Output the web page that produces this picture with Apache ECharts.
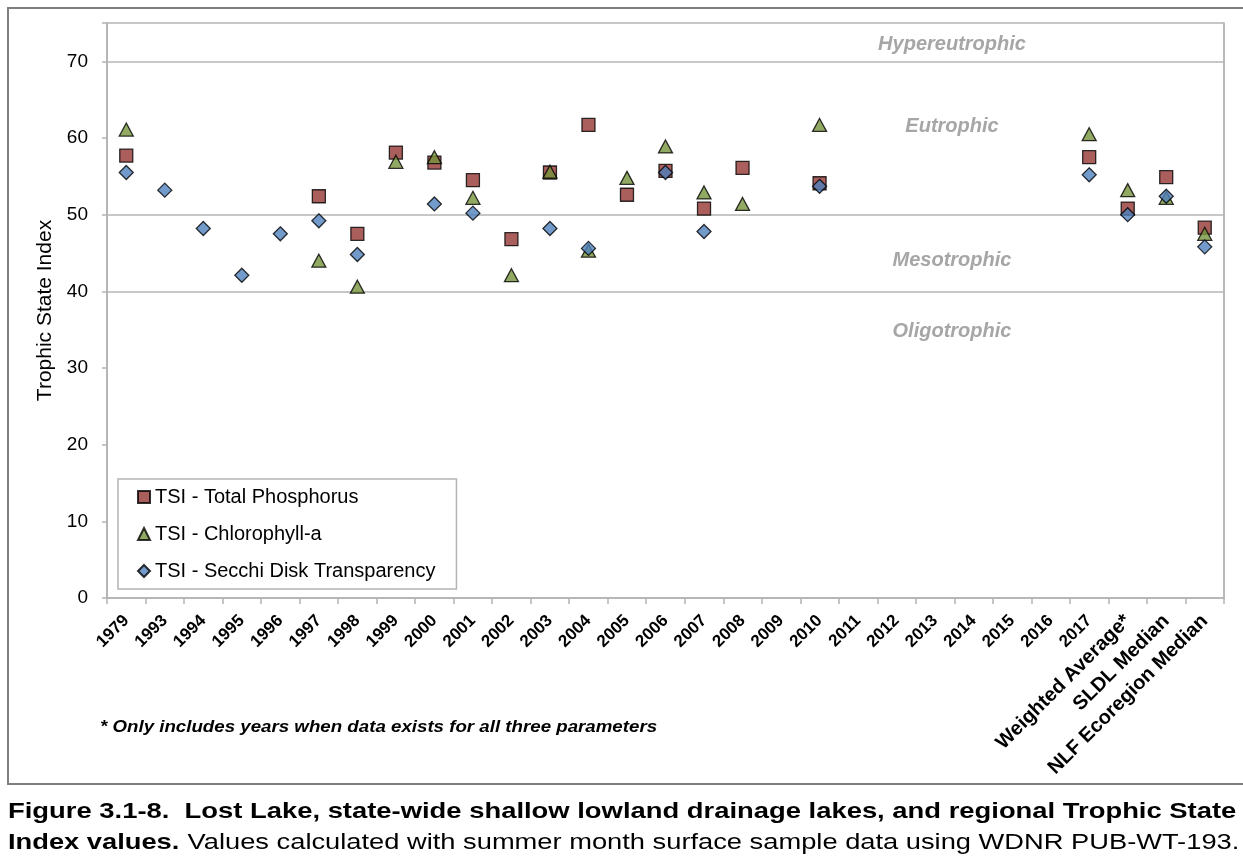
<!DOCTYPE html>
<html>
<head>
<meta charset="utf-8">
<script src="https://cdn.jsdelivr.net/npm/echarts@6/dist/echarts.min.js"></script>
<style>
  html, body { margin: 0; padding: 0; background: #fff; }
  #chart { width: 1243px; height: 859px; }
</style>
</head>
<body>
<div id="chart"></div>
<script>
// categories along the x axis
var categories = ['1979', '1993', '1994', '1995', '1996', '1997', '1998', '1999', '2000', '2001',
  '2002', '2003', '2004', '2005', '2006', '2007', '2008', '2009', '2010', '2011', '2012', '2013',
  '2014', '2015', '2016', '2017', 'Weighted Average*', 'SLDL Median', 'NLF Ecoregion Median']

// TSI values (null = no data)
var tsiPhosphorus = [57.7, null, null, null, null, 52.4, 47.5, 58.1, 56.8, 54.5,
  46.8, 55.5, 61.7, 52.6, 55.7, 50.8, 56.1, null, 54.1, null, null, null,
  null, null, null, 57.5, 50.8, 54.9, 48.3]
var tsiChlorophyll = [61.1, null, null, null, null, 44.0, 40.6, 56.9, 57.5, 52.2,
  42.1, 55.6, 45.3, 54.8, 58.9, 52.9, 51.4, null, 61.7, null, null, null,
  null, null, null, 60.5, 53.2, 52.2, 47.5]
var tsiSecchi = [55.5, 53.2, 48.2, 42.1, 47.5, 49.2, 44.8, null, 51.4, 50.2,
  null, 48.2, 45.6, null, 55.5, 47.8, null, null, 53.7, null, null, null,
  null, null, null, 55.2, 50.0, 52.4, 45.8]

// trophic class boundaries and zone labels
var trophicBreaks = [40, 50, 70]
var zoneLabels = ['Hypereutrophic', 'Eutrophic', 'Mesotrophic', 'Oligotrophic']
var zoneLabelY = [44, 126, 260, 331]

var seriesNames = ['TSI - Total Phosphorus', 'TSI - Chlorophyll-a', 'TSI - Secchi Disk Transparency']

var font = 'Arial, "Liberation Sans", sans-serif'
var gridColor = '#b4b4b4'

var chart = echarts.init(document.getElementById('chart'))

var zoneGraphics = zoneLabels.map(function (t, i) {
  return {
    type: 'text',
    x: 952,
    y: zoneLabelY[i],
    style: {
      text: t,
      fill: '#a6a6a6',
      font: 'italic bold 20px ' + font,
      align: 'center',
      verticalAlign: 'middle'
    }
  }
})

chart.setOption({
  animation: false,
  textStyle: { fontFamily: font },
  grid: {
    left: 107,
    top: 23,
    right: 19,
    bottom: 261,
    show: true,
    borderColor: gridColor,
    borderWidth: 1.5
  },
  legend: {
    data: seriesNames,
    orient: 'vertical',
    left: 118,
    top: 479,
    padding: [8, 21, 8, 19],
    itemGap: 17,
    itemWidth: 12,
    itemHeight: 12,
    itemTextGap: 5,
    borderColor: gridColor,
    borderWidth: 1.5,
    textStyle: { color: '#000', fontSize: 20, fontFamily: font }
  },
  xAxis: {
    type: 'category',
    data: categories,
    boundaryGap: true,
    axisLine: { lineStyle: { color: gridColor, width: 1.5 } },
    axisTick: { show: true, length: 6, lineStyle: { color: gridColor, width: 1.5 } },
    axisLabel: {
      interval: 0,
      rotate: 45,
      margin: 20,
      color: '#000',
      fontFamily: font,
      formatter: function (v) {
        return /^\d+$/.test(v) ? '{y|' + v + '}' : '{t|' + v + '}'
      },
      rich: {
        y: { fontSize: 17, fontWeight: 'bold', color: '#000', fontFamily: font },
        t: { fontSize: 20, fontWeight: 'bold', color: '#000', fontFamily: font }
      }
    },
    splitLine: {
      show: true,
      interval: function (index) { return index === 26 },
      lineStyle: { color: gridColor, width: 1.5 }
    }
  },
  yAxis: {
    type: 'value',
    min: 0,
    max: 75,
    interval: 10,
    name: 'Trophic State Index',
    nameLocation: 'middle',
    nameGap: 50,
    nameTextStyle: { color: '#000', fontSize: 21, fontFamily: font },
    axisLine: { show: true, lineStyle: { color: gridColor, width: 1.5 } },
    axisTick: { show: true, length: 5, lineStyle: { color: gridColor, width: 1.5 } },
    axisLabel: {
      color: '#000',
      fontSize: 19,
      margin: 19,
      fontFamily: font,
      formatter: function (v) { return v > 70 ? '' : v }
    },
    splitLine: { show: false }
  },
  series: [
    {
      name: seriesNames[0],
      type: 'scatter',
      symbol: 'rect',
      symbolSize: 13,
      itemStyle: { color: '#953735', borderColor: '#000', borderWidth: 1.3 },
      data: tsiPhosphorus,
      z: 3,
      markLine: {
        silent: true,
        z: 1,
        symbol: 'none',
        label: { show: false },
        lineStyle: { color: gridColor, width: 1.5, type: 'solid' },
        data: trophicBreaks.map(function (v) { return { yAxis: v } })
      }
    },
    {
      name: seriesNames[1],
      type: 'scatter',
      symbol: 'triangle',
      symbolSize: [14, 13],
      itemStyle: { color: '#77933C', borderColor: '#000', borderWidth: 1.3 },
      data: tsiChlorophyll,
      z: 4
    },
    {
      name: seriesNames[2],
      type: 'scatter',
      symbol: 'diamond',
      symbolSize: 14,
      itemStyle: { color: '#4F81BD', borderColor: '#000', borderWidth: 1.3 },
      data: tsiSecchi,
      z: 5
    }
  ],
  graphic: zoneGraphics.concat([
    {
      type: 'rect',
      shape: { x: 8, y: 8, width: 1240, height: 776 },
      style: { fill: 'none', stroke: '#7f7f7f', lineWidth: 2 },
      silent: true
    },
    {
      type: 'text',
      x: 100,
      y: 727,
      scaleX: 1.1,
      style: {
        text: '* Only includes years when data exists for all three parameters',
        fill: '#000',
        font: 'italic bold 17px ' + font,
        verticalAlign: 'middle'
      }
    },
    {
      type: 'text',
      x: 8,
      y: 812,
      scaleX: 1.245,
      style: {
        text: 'Figure 3.1-8.  Lost Lake, state-wide shallow lowland drainage lakes, and regional Trophic State',
        fill: '#000',
        font: 'bold 22px ' + font,
        verticalAlign: 'middle'
      }
    },
    {
      type: 'text',
      x: 8,
      y: 843,
      scaleX: 1.24,
      style: {
        text: '{b|Index values.}  {n|Values calculated with summer month surface sample data using WDNR PUB-WT-193.}',
        verticalAlign: 'middle',
        rich: {
          b: { fill: '#000', fontSize: 22, fontWeight: 'bold', fontFamily: font },
          n: { fill: '#000', fontSize: 22, fontFamily: font }
        }
      }
    }
  ])
})
</script>
</body>
</html>
